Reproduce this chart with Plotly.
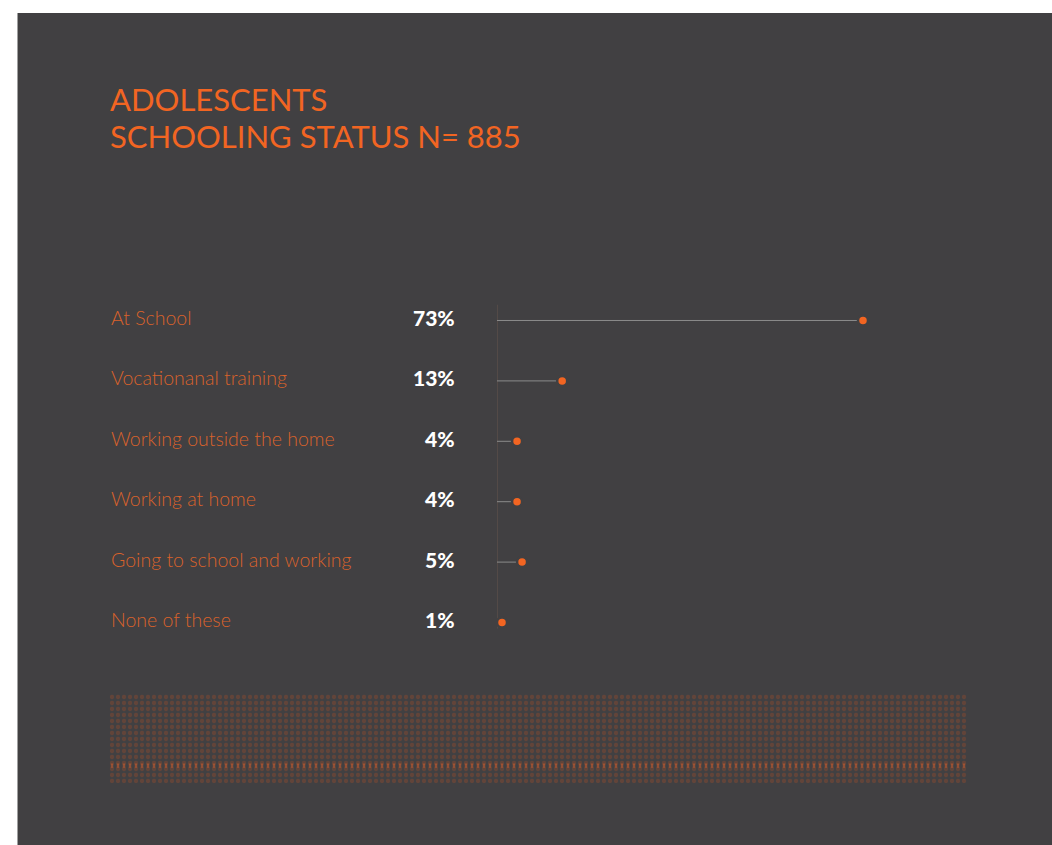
import plotly.graph_objects as go

# Schooling status of adolescents (share of respondents, %)
categories = [
    "At School",
    "Vocationanal training",
    "Working outside the home",
    "Working at home",
    "Going to school and working",
    "None of these",
]
shares = [73, 13, 4, 4, 5, 1]
title_lines = ["ADOLESCENTS", "SCHOOLING STATUS N= 885"]

W, H = 1052, 845
BG = "#414042"
ORANGE = "#f26522"
LABEL_ORANGE = "#d9622b"

# plot area in pixels
X0, X1 = 497, 1000
Y_TOP, Y_BOT = 290.3, 652.7
X_MAX = 73 * (X1 - X0) / 366.0


def px_x(p):
    return p / W


def px_y(p):
    return 1 - p / H


rows = list(range(len(categories)))

fig = go.Figure()

# stems of the lollipops
stem_x, stem_y = [], []
for i, v in zip(rows, shares):
    stem_x += [0, v, None]
    stem_y += [i, i, None]
fig.add_trace(go.Scatter(
    x=stem_x, y=stem_y, mode="lines",
    line=dict(color="#8a8a8a", width=1),
    hoverinfo="skip", showlegend=False,
))

# heads of the lollipops
fig.add_trace(go.Scatter(
    x=shares, y=rows, mode="markers",
    marker=dict(color=ORANGE, size=10, line=dict(color=BG, width=2.5)),
    text=categories, hovertemplate="%{text}: %{x}%<extra></extra>",
    showlegend=False,
))

# decorative dotted band
fig.add_trace(go.Bar(
    x=[0], y=[1], width=[1], base=[0],
    marker=dict(color="rgba(0,0,0,0)", line=dict(width=0),
                pattern=dict(shape=".", fgcolor="#83482f", bgcolor="rgba(0,0,0,0)",
                             size=6, solidity=0.4)),
    xaxis="x2", yaxis="y2", hoverinfo="skip", showlegend=False,
))
fig.add_trace(go.Bar(
    x=[0], y=[0.05], width=[1], base=[0.17],
    marker=dict(color="rgba(0,0,0,0)", line=dict(width=0),
                pattern=dict(shape="|", fgcolor="#e0602a", bgcolor="rgba(0,0,0,0)",
                             size=6, solidity=0.4)),
    xaxis="x2", yaxis="y2", hoverinfo="skip", showlegend=False,
))

annotations = []
# title
for k, line in enumerate(title_lines):
    annotations.append(dict(
        x=px_x(108), y=px_y(99 + 37 * k), xref="paper", yref="paper",
        xanchor="left", yanchor="middle", showarrow=False, text=line,
        font=dict(family="Lato", size=31, color=ORANGE),
    ))

# category names and value labels
for i, (c, v) in zip(rows, zip(categories, shares)):
    annotations.append(dict(
        x=px_x(109), y=i, xref="paper", yref="y", xanchor="left", yanchor="middle",
        yshift=3, showarrow=False, text=c,
        font=dict(family="Lato", size=19.5, color=LABEL_ORANGE, weight=300),
    ))
    annotations.append(dict(
        x=px_x(457), y=i, xref="paper", yref="y", xanchor="right", yanchor="middle",
        yshift=3, showarrow=False, text=f"{v}%",
        font=dict(family="Lato", size=21, color="white", weight=900),
    ))

shapes = [
    # dark panel
    dict(type="rect", xref="paper", yref="paper", x0=px_x(18), x1=1, y0=0, y1=px_y(13),
         fillcolor=BG, line=dict(width=0), layer="below"),
    dict(type="line", xref="paper", yref="paper", x0=px_x(17.5), x1=px_x(17.5), y0=0, y1=px_y(13),
         line=dict(color="#a0a0a0", width=1), layer="below"),
    # baseline of the lollipops
    dict(type="line", xref="x", yref="y", x0=0, x1=0, y0=-0.26, y1=5.1,
         line=dict(color="#5a4e4a", width=1.5), layer="below"),
]

fig.update_layout(
    width=W, height=H,
    margin=dict(l=0, r=0, t=0, b=0),
    paper_bgcolor="white", plot_bgcolor="rgba(0,0,0,0)",
    xaxis=dict(domain=[px_x(X0), px_x(X1)], range=[0, X_MAX], visible=False, fixedrange=True),
    yaxis=dict(domain=[px_y(Y_BOT), px_y(Y_TOP)], range=[5.5, -0.5], visible=False, fixedrange=True),
    xaxis2=dict(domain=[px_x(109), px_x(967)], range=[-0.5, 0.5], visible=False, anchor="y2"),
    yaxis2=dict(domain=[px_y(783), px_y(694)], range=[0, 1], visible=False, anchor="x2"),
    annotations=annotations,
    shapes=shapes,
    barmode="overlay",
    showlegend=False,
)

fig.write_html("out.html")
